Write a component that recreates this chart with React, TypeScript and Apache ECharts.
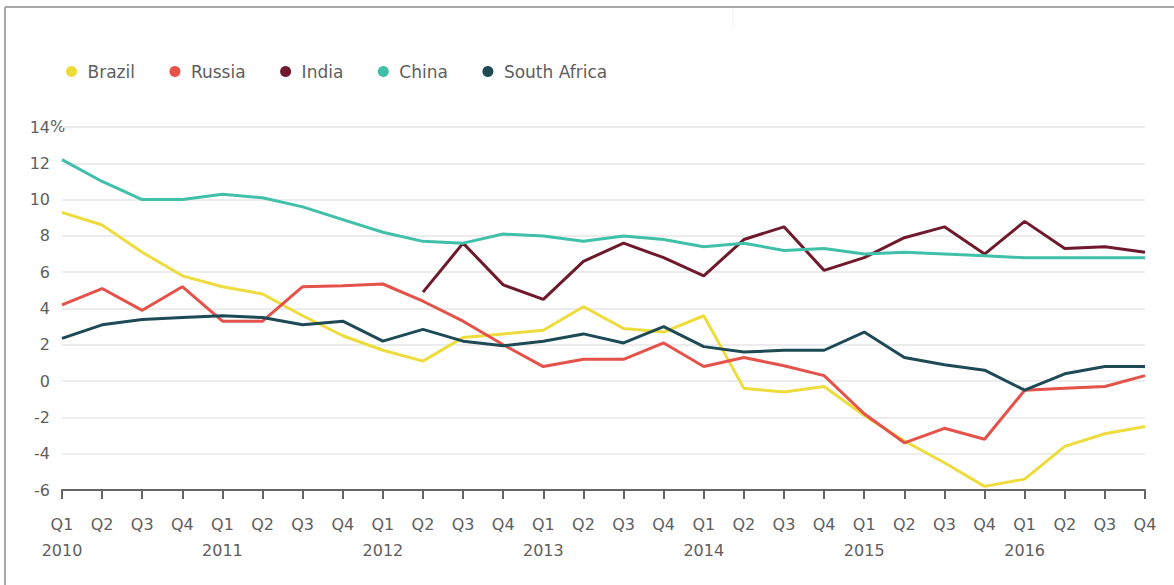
import React, { useEffect, useRef } from "react";
import * as echarts from "echarts";

const quarters = ["Q1", "Q2", "Q3", "Q4"];
const years = ["2010", "2011", "2012", "2013", "2014", "2015", "2016"];
const yTicks = { min: -6, max: 14, interval: 2 };

const brazil = [9.3, 8.6, 7.1, 5.8, 5.2, 4.8, 3.6, 2.5, 1.7, 1.1, 2.4, 2.6, 2.8, 4.1, 2.9, 2.7, 3.6, -0.4, -0.6, -0.3, -1.9, -3.3, -4.5, -5.8, -5.4, -3.6, -2.9, -2.5];
const russia = [4.2, 5.1, 3.9, 5.2, 3.3, 3.3, 5.2, 5.25, 5.35, 4.4, 3.3, 2.0, 0.8, 1.2, 1.2, 2.1, 0.8, 1.3, 0.85, 0.3, -1.8, -3.4, -2.6, -3.2, -0.5, -0.4, -0.3, 0.3];
const india = [null, null, null, null, null, null, null, null, null, 4.9, 7.6, 5.3, 4.5, 6.6, 7.6, 6.8, 5.8, 7.8, 8.5, 6.1, 6.8, 7.9, 8.5, 7.0, 8.8, 7.3, 7.4, 7.1];
const china = [12.2, 11.0, 10.0, 10.0, 10.3, 10.1, 9.6, 8.9, 8.2, 7.7, 7.6, 8.1, 8.0, 7.7, 8.0, 7.8, 7.4, 7.6, 7.2, 7.3, 7.0, 7.1, 7.0, 6.9, 6.8, 6.8, 6.8, 6.8];
const southAfrica = [2.35, 3.1, 3.4, 3.5, 3.6, 3.5, 3.1, 3.3, 2.2, 2.85, 2.2, 1.95, 2.2, 2.6, 2.1, 3.0, 1.9, 1.6, 1.7, 1.7, 2.7, 1.3, 0.9, 0.6, -0.5, 0.4, 0.8, 0.8];

const seriesNames = ["Brazil", "Russia", "India", "China", "South Africa"];
const seriesColors = ["#eedc3c", "#e4524a", "#6e1a2c", "#40c0a8", "#1e4a56"];
const seriesData = [brazil, russia, india, china, southAfrica];

const categories: string[] = [];
years.forEach((y) => quarters.forEach((q) => categories.push(y + " " + q)));

const FONT = "DejaVu Sans";
const TEXT = "#5e5e5e";

export default function App() {
  const ref = useRef<HTMLDivElement>(null);
  useEffect(() => {
    if (!ref.current) return;
    const chart = echarts.init(ref.current, undefined, { renderer: "svg" });
    chart.setOption({
      animation: false,
      backgroundColor: "#ffffff",
      textStyle: { fontFamily: FONT },
      legend: {
        left: 61,
        top: 58,
        icon: "circle",
        itemWidth: 22,
        itemHeight: 11,
        itemGap: 34.5,
        textStyle: { fontFamily: FONT, fontSize: 17, color: TEXT },
        data: seriesNames,
      },
      grid: { left: 62, right: 29, top: 127, bottom: 95, containLabel: false },
      xAxis: {
        type: "category",
        data: categories,
        boundaryGap: false,
        axisLine: { onZero: false, lineStyle: { color: "#666", width: 2 } },
        axisTick: { show: true, interval: 0, length: 9, lineStyle: { color: "#666", width: 2 } },
        axisLabel: {
          interval: 0,
          margin: 21,
          fontFamily: FONT,
          fontSize: 16,
          lineHeight: 26,
          color: TEXT,
          formatter: (v: string) => {
            const [y, q] = v.split(" ");
            return q === "Q1" ? q + "\n" + y : q;
          },
        },
        splitLine: { show: false },
      },
      yAxis: {
        type: "value",
        min: yTicks.min,
        max: yTicks.max,
        interval: yTicks.interval,
        axisLine: { show: false },
        axisTick: { show: false },
        axisLabel: { margin: 12, fontFamily: FONT, fontSize: 16, color: TEXT },
        splitLine: { lineStyle: { color: "#ececec", width: 2 } },
      },
      graphic: [
        { type: "line", shape: { x1: 5, y1: 7, x2: 5, y2: 585 }, style: { stroke: "#a8a8a8", lineWidth: 2 } },
        { type: "line", shape: { x1: 5, y1: 7, x2: 1174, y2: 7 }, style: { stroke: "#a8a8a8", lineWidth: 2 } },
        { type: "line", shape: { x1: 733, y1: 8, x2: 733, y2: 28 }, style: { stroke: "#f0f0f0", lineWidth: 1 } },
        {
          type: "text",
          left: 50,
          top: 118,
          style: { text: "%", fontFamily: FONT, fontSize: 16, fill: TEXT },
        },
      ],
      series: seriesNames.map((name, i) => ({
        name,
        type: "line",
        data: seriesData[i],
        showSymbol: false,
        symbol: "circle",
        connectNulls: false,
        itemStyle: { color: seriesColors[i] },
        lineStyle: { color: seriesColors[i], width: 3 },
      })),
    });
    return () => chart.dispose();
  }, []);
  return (
    <div style={{ position: "fixed", left: 0, top: 0, width: 1174, height: 585, background: "#fff" }}>
      <div ref={ref} style={{ width: 1174, height: 585 }} />
    </div>
  );
}
